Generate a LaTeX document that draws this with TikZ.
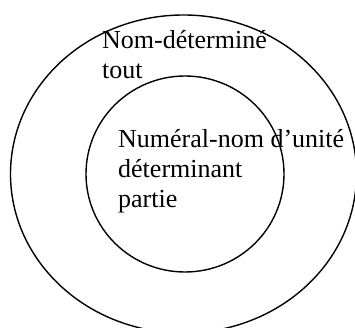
\documentclass[tikz,border=0pt]{standalone}
\usepackage{fontspec}
\setmainfont{Liberation Serif}
\begin{document}
\begin{tikzpicture}[x=1pt,y=1pt,
  ring/.style={draw=black,line width=1.4pt},
  lbl/.style={anchor=base west,inner sep=0pt,font=\fontsize{26}{30}\selectfont}]
\useasboundingbox (0,0) rectangle (355,327);
\draw[ring] (183.5,153) ellipse [x radius=173,y radius=159];
\draw[ring] (185,153) ellipse [x radius=99,y radius=98];
\node[lbl] (t1) at (102,278) {Nom-déterminé};
\node[lbl] (t2) at (102,248) {tout};
\node[lbl] (t3) at (118,180) {Numéral-nom d’unité};
\node[lbl] (t4) at (118,150) {déterminant};
\node[lbl] (t5) at (118,120) {partie};
\end{tikzpicture}
\end{document}
